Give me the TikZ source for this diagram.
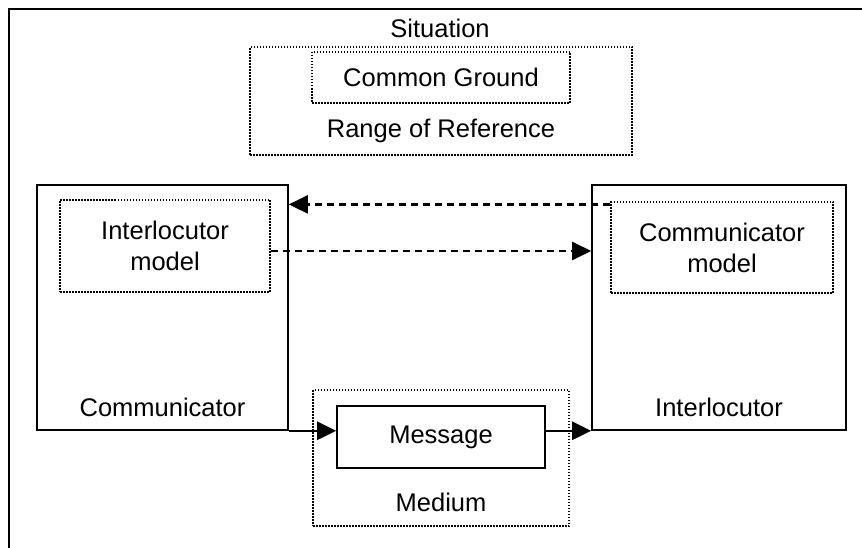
\documentclass[tikz,border=0pt]{standalone}
\usepackage{fontspec}
\setmainfont{Liberation Sans}
\usepackage{tikz}
\usetikzlibrary{arrows.meta, positioning}

\begin{document}
\begin{tikzpicture}[x=1pt, y=-1pt,
  every node/.style={font=\fontsize{25.5}{31}\selectfont, inner sep=0pt},
  solidbox/.style={rectangle, draw, line width=1.6pt, align=center},
  dotbox/.style={rectangle, draw, line width=1.2pt, dash pattern=on 1.5pt off 1.5pt, align=center},
  lbl/.style={align=center},
  arr/.style={-{Triangle[length=19pt, width=18pt]}, line width=2.4pt},
  dasharr/.style={arr, dash pattern=on 7pt off 5pt}
]
\useasboundingbox (0,0) rectangle (862,548);
\draw[line width=2.5pt] (9,548) -- (9,9) -- (862,9);

% situation: range of reference with the common ground in it
\node[lbl] (sit) at (440,28) {Situation};
\node[dotbox, minimum width=382pt, minimum height=108pt] (range) at (441,101) {};
\node[dotbox, minimum width=258pt, minimum height=51pt] (ground) at (441,77.5) {Common Ground};
\node[lbl, above=13pt of range.south] (rangelbl) {Range of Reference};

% the two parties, each with a model of the other
\node[solidbox, minimum width=251pt, minimum height=245pt] (comm) at (162.5,307.5) {};
\node[dotbox, minimum width=210pt, minimum height=92pt] (intlmod) at (165,246) {Interlocutor\\model};
\node[lbl, above=14pt of comm.south] (commlbl) {Communicator};

\node[solidbox, minimum width=254pt, minimum height=245pt] (intl) at (719,307.5) {};
\node[dotbox, minimum width=222pt, minimum height=91pt] (commmod) at (722,247.5) {Communicator\\model};
\node[lbl, above=14pt of intl.south] (intllbl) {Interlocutor};

% medium carrying the message
\node[dotbox, minimum width=256pt, minimum height=136pt] (medium) at (441,458) {};
\node[solidbox, minimum width=208pt, minimum height=62pt] (msg) at (441,437) {Message};
\node[lbl, above=15pt of medium.south] (mediumlbl) {Medium};

\draw[dasharr] ([yshift=-3pt]commmod.north west) -- ([yshift=-3pt]commmod.north west -| comm.east);
\draw[dasharr] ([yshift=-5pt]intlmod.east) -- ([yshift=-5pt]intlmod.east -| intl.west);
\draw[arr] (comm.south east) -- (comm.south east -| msg.west);
\draw[arr] (intl.south west -| msg.east) -- (intl.south west);
\end{tikzpicture}
\end{document}
